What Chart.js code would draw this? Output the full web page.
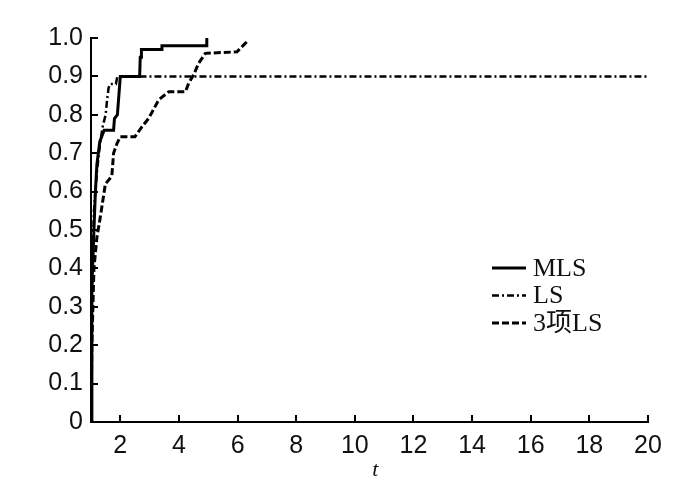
<!DOCTYPE html>
<html>
<head>
<meta charset="utf-8">
<script src="https://cdn.jsdelivr.net/npm/chart.js@4/dist/chart.umd.min.js"></script>
<style>
html,body{margin:0;padding:0;background:#fff;}
#wrap{width:700px;height:500px;}
</style>
</head>
<body>
<div id="wrap"><canvas id="c" width="700" height="500"></canvas></div>
<script>
// Series data (x = t, y = value)
const mlsX = [1.0, 1.03, 1.1, 1.15, 1.2, 1.3, 1.4, 1.45, 1.77, 1.8, 1.9, 1.95, 2.0, 2.66, 2.68, 2.72, 2.72, 3.42, 3.42, 4.95, 4.95];
const mlsY = [0, 0.35, 0.5, 0.6, 0.67, 0.73, 0.75, 0.76, 0.76, 0.79, 0.8, 0.85, 0.9, 0.9, 0.95, 0.95, 0.97, 0.97, 0.98, 0.98, 1.0];

const lsX = [1.0, 1.02, 1.1, 1.2, 1.3, 1.4, 1.5, 1.55, 1.6, 1.65, 1.85, 1.9, 20];
const lsY = [0, 0.3, 0.55, 0.65, 0.72, 0.77, 0.8, 0.84, 0.87, 0.88, 0.88, 0.9, 0.9];

const ls3X = [1.0, 1.03, 1.1, 1.2, 1.32, 1.43, 1.49, 1.71, 1.77, 1.89, 2.0, 2.5, 2.74, 2.97, 3.31, 3.65, 4.22, 4.33, 4.5, 4.67, 4.9, 5.98, 6.21, 6.38];
const ls3Y = [0, 0.2, 0.4, 0.48, 0.535, 0.59, 0.62, 0.64, 0.7, 0.726, 0.743, 0.743, 0.769, 0.791, 0.839, 0.86, 0.86, 0.882, 0.904, 0.934, 0.96, 0.964, 0.982, 0.995];

const seriesNames = ["MLS", "LS", "3项LS"];
const xTickValues = [2, 4, 6, 8, 10, 12, 14, 16, 18, 20];
const yTickValues = [0, 0.1, 0.2, 0.3, 0.4, 0.5, 0.6, 0.7, 0.8, 0.9, 1.0];
const xTitle = "t";

function pts(xs, ys){ return xs.map((x,i)=>({x:x, y:ys[i]})); }

const dashes = [[], [7,3,2,3], [7,3]];
const widths = [3, 2.5, 3];

const insideTicks = {
  id: 'insideTicks',
  afterDraw(chart){
    const ctx = chart.ctx;
    const xs = chart.scales.x, ys = chart.scales.y;
    const ca = chart.chartArea;
    ctx.save();
    ctx.strokeStyle = '#000';
    ctx.lineWidth = 2;
    ctx.beginPath();
    xTickValues.forEach(v=>{
      const px = Math.round(xs.getPixelForValue(v));
      ctx.moveTo(px, ca.bottom); ctx.lineTo(px, ca.bottom - 7);
    });
    yTickValues.forEach(v=>{
      const py = Math.round(ys.getPixelForValue(v));
      ctx.moveTo(ca.left, py); ctx.lineTo(ca.left + 7, py);
    });
    ctx.stroke();
    // axis title
    ctx.fillStyle = '#111';
    ctx.font = 'italic 22px "Liberation Serif", serif';
    ctx.textAlign = 'center';
    ctx.textBaseline = 'middle';
    ctx.fillText(xTitle, xs.getPixelForValue(10.7), ca.bottom + 48);
    // legend
    const lx = 492, ly0 = 268, dy = 27.5;
    chart.data.datasets.forEach((ds,i)=>{
      const y = ly0 + i*dy;
      ctx.beginPath();
      ctx.setLineDash(dashes[i]);
      ctx.lineWidth = widths[i];
      ctx.moveTo(lx, y); ctx.lineTo(lx + 34, y);
      ctx.stroke();
      ctx.setLineDash([]);
      ctx.fillStyle = '#111';
      ctx.font = '26px "Liberation Serif", "Noto Sans CJK SC", serif';
      ctx.textBaseline = 'middle';
      ctx.textAlign = 'left';
      ctx.fillText(ds.label, lx + 41, y + 1);
    });
    ctx.restore();
  }
};

new Chart(document.getElementById('c'), {
  type: 'line',
  data: {
    datasets: [
      {label: seriesNames[0], data: pts(mlsX, mlsY)},
      {label: seriesNames[1], data: pts(lsX, lsY)},
      {label: seriesNames[2], data: pts(ls3X, ls3Y)}
    ].map((d,i)=>Object.assign(d, {
      borderColor: '#000', borderWidth: widths[i], borderDash: dashes[i],
      pointRadius: 0, fill: false, tension: 0, borderCapStyle: 'butt'
    }))
  },
  options: {
    responsive: false,
    animation: false,
    devicePixelRatio: 1,
    layout: {padding: {top: 38, right: 52, left: 0, bottom: 0}},
    plugins: {legend: {display: false}, tooltip: {enabled: false}},
    scales: {
      x: {
        type: 'linear', min: 1, max: 20,
        afterBuildTicks: s => { s.ticks = xTickValues.map(v=>({value:v})); },
        afterFit: s => { s.height = 78; },
        grid: {display: true, drawOnChartArea: false, drawTicks: false},
        border: {display: true, color: '#000', width: 2},
        ticks: {color: '#111', padding: 9, maxRotation: 0, font: {family: '"Liberation Sans", Arial, sans-serif', size: 25}},
        title: {display: false}
      },
      y: {
        type: 'linear', min: 0, max: 1,
        afterBuildTicks: s => { s.ticks = yTickValues.map(v=>({value:v})); },
        afterFit: s => { s.width = 91; },
        grid: {display: true, drawOnChartArea: false, drawTicks: false},
        border: {display: true, color: '#000', width: 2},
        ticks: {color: '#111', padding: 8, font: {family: '"Liberation Sans", Arial, sans-serif', size: 25},
                callback: v => v === 0 ? '0' : v.toFixed(1)}
      }
    }
  },
  plugins: [insideTicks]
});
</script>
</body>
</html>
